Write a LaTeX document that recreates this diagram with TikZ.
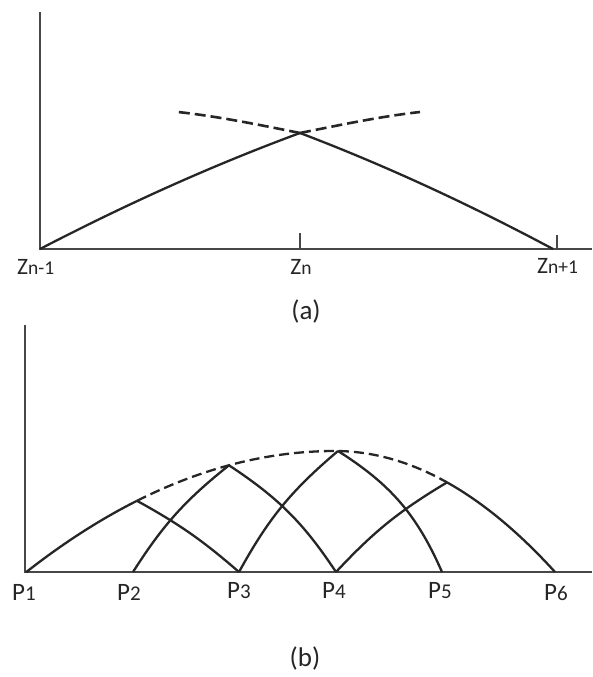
\documentclass[tikz,border=0pt]{standalone}
\usepackage{fontspec}
\setmainfont{Carlito}
\newcommand\smzt[1]{{\fontsize{19.5}{22}\selectfont #1}}
\newcommand\smpt[1]{{\fontsize{21}{24}\selectfont #1}}
\begin{document}
\begin{tikzpicture}[x=1pt,y=1pt]
\tikzset{
  axis/.style={line width=2pt, draw=black!72},
  curve/.style={line width=2.3pt, draw=black!85},
  dashcurve/.style={curve, dash pattern=on 10pt off 5pt},
  dashcurvea/.style={curve, line width=2.6pt, dash pattern=on 11pt off 5pt},
  zlab/.style={inner sep=0pt, anchor=base west, font=\fontsize{23.5}{26}\selectfont, text=black!85},
  plab/.style={inner sep=0pt, anchor=base west, font=\fontsize{25}{28}\selectfont, text=black!85},
  caplab/.style={inner sep=0pt, font=\fontsize{27}{30}\selectfont, text=black!85}
}
\useasboundingbox (0,0) rectangle (592,-677);
% ---------- (a) ----------
\coordinate (oa) at (40,-249);
\coordinate (ya) at (40,-12);
\coordinate (xa) at (592,-249);
\coordinate (zn) at (300,-249);
\coordinate (zp) at (557,-249);
\coordinate (cross) at (300,-133);
\coordinate (re) at (553,-249);
\coordinate (le) at (178,-112);
\coordinate (rend) at (420,-112);
\draw[axis] (ya) -- (oa) -- (xa);
\draw[axis] (zn) -- ++(0,16);
\draw[axis] (zp) -- ++(0,14);
\draw[curve] (oa) .. controls (126.7,-204) and (213.3,-165) .. (cross);
\draw[curve] (re) .. controls (468.7,-204) and (384.3,-165) .. (cross);
\draw[dashcurvea] (cross) .. controls (340,-125) and (380,-116.5) .. (rend);
\draw[dashcurvea] (cross) .. controls (260,-125) and (219,-116.5) .. (le);
\node[zlab] (lz1) at (17,-274) {Z\smzt{n-1}};
\node[zlab, anchor=base] (lz2) at (301,-274) {Z\smzt{n}};
\node[zlab] (lz3) at (537,-273) {Z\smzt{n+1}};
\node[caplab] (capa) at (306,-311) {(a)};
% ---------- (b) ----------
\coordinate (yb) at (25,-325);
\coordinate (g1) at (25,-572);
\coordinate (xb) at (592,-572);
\coordinate (g2) at (133,-572);
\coordinate (g3) at (239,-572);
\coordinate (g4) at (336,-572);
\coordinate (g5) at (442,-572);
\coordinate (g6) at (555,-572);
\coordinate (t2) at (137,-500.8);
\coordinate (t3) at (229,-465.3);
\coordinate (t4) at (338,-451);
\coordinate (t5) at (447,-482.4);
\draw[axis] (yb) -- (g1) -- (xb);
\draw[curve] plot[domain=26:137,samples=40] (\x,{-(451+12.7*((\x-335)/100)^2)});
\draw[dashcurve] plot[domain=137:335,samples=50] (\x,{-(451+12.7*((\x-335)/100)^2)})
   -- plot[domain=335:447,samples=30] (\x,{-(451+25*((\x-335)/100)^2)});
\draw[curve] plot[domain=447:555,samples=40] (\x,{-(451+25*((\x-335)/100)^2)});
\draw[curve] (g2) to[bend left=9.5] (t3);
\draw[curve] (t2) to[bend left=6] (g3);
\draw[curve] (g3) to[bend left=10.5] (t4);
\draw[curve] (t3) to[bend left=11.5] (g4);
\draw[curve] (g4) to[bend left=8] (t5);
\draw[curve] (t4) to[bend left=17] (g5);
\node[plab] (lp1) at (12,-600) {P\smpt{1}};
\node[plab] (lp2) at (117,-600) {P\smpt{2}};
\node[plab] (lp3) at (227,-598) {P\smpt{3}};
\node[plab] (lp4) at (322,-598) {P\smpt{4}};
\node[plab] (lp5) at (428,-598) {P\smpt{5}};
\node[plab] (lp6) at (544,-600) {P\smpt{6}};
\node[caplab] (capb) at (305,-658) {(b)};
\end{tikzpicture}
\end{document}
